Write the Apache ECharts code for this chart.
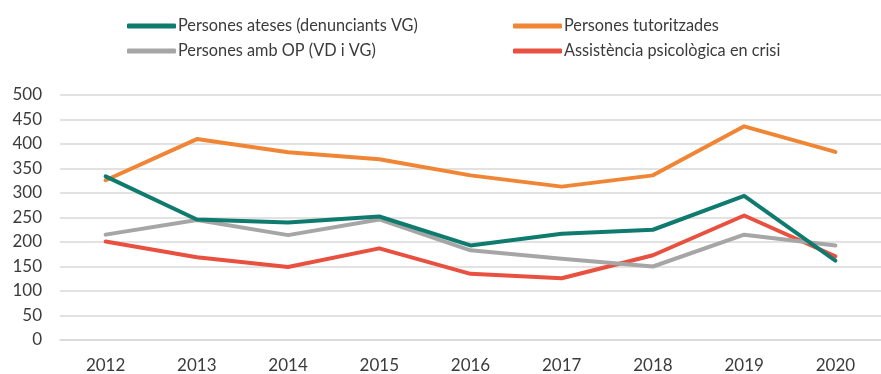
<!DOCTYPE html>
<html>
<head>
<meta charset="utf-8">
<script src="https://cdn.jsdelivr.net/npm/echarts@6/dist/echarts.min.js"></script>
<style>
  html, body { margin: 0; padding: 0; background: #ffffff; }
  #chart { width: 881px; height: 374px; }
</style>
</head>
<body>
<div id="chart"></div>
<script>
// Years on the horizontal axis
const years = ['2012', '2013', '2014', '2015', '2016', '2017', '2018', '2019', '2020'];

// Yearly counts per service
const ateses       = [334, 246, 240, 252, 193, 217, 225, 294, 162];
const tutoritzades = [326, 410, 383, 369, 336, 313, 336, 436, 384];
const ambOP        = [215, 245, 214, 246, 183, 166, 150, 215, 193];
const crisi        = [201, 169, 149, 187, 135, 126, 173, 254, 171];

const names = [
  'Persones ateses (denunciants VG)',
  'Persones tutoritzades',
  'Persones amb OP (VD i VG)',
  'Assistència psicològica en crisi'
];
const colors = ['#0f7b6f', '#f08635', '#a6a6a6', '#e8503f'];

const fontFamily = 'Lato, "Open Sans", sans-serif';
const textColor = '#3b3b3b';

function lineSeries(i, values) {
  return {
    name: names[i],
    type: 'line',
    data: values,
    symbol: 'none',
    lineStyle: { color: colors[i], width: 4, cap: 'round', join: 'round' },
    itemStyle: { color: colors[i] },
    z: 10 - i
  };
}

function legendBlock(left, items) {
  return {
    left: left,
    top: 18,
    padding: 0,
    orient: 'vertical',
    itemGap: 9,
    itemWidth: 49,
    itemHeight: 5,
    icon: 'roundRect',
    data: items,
    textStyle: {
      fontFamily: fontFamily,
      fontSize: 16.3,
      lineHeight: 16,
      color: textColor,
      padding: [0, 0, 0, -3]
    }
  };
}

const chart = echarts.init(document.getElementById('chart'), null, { renderer: 'canvas' });
chart.setOption({
  animation: false,
  backgroundColor: '#ffffff',
  legend: [
    legendBlock(127, [names[0], names[2]]),
    legendBlock(513, [names[1], names[3]])
  ],
  grid: { left: 60, right: -12, top: 95, bottom: 32.5, containLabel: false },
  xAxis: {
    type: 'category',
    data: years,
    boundaryGap: true,
    axisLine: { show: true, lineStyle: { color: '#d9d9d9', width: 1.5 } },
    axisTick: { show: false },
    axisLabel: {
      fontFamily: fontFamily,
      fontSize: 17,
      color: textColor,
      margin: 17
    }
  },
  yAxis: {
    type: 'value',
    min: 0,
    max: 500,
    interval: 50,
    axisLine: { show: false },
    axisTick: { show: false },
    splitLine: { lineStyle: { color: '#d9d9d9', width: 1.5 } },
    axisLabel: {
      fontFamily: fontFamily,
      fontSize: 17,
      color: textColor,
      margin: 18
    }
  },
  series: [
    lineSeries(1, tutoritzades),
    lineSeries(2, ambOP),
    lineSeries(0, ateses),
    lineSeries(3, crisi)
  ]
});
</script>
</body>
</html>
